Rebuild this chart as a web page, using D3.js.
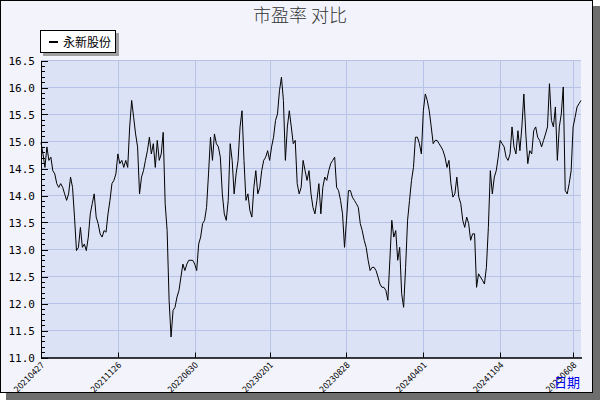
<!DOCTYPE html>
<html><head><meta charset="utf-8">
<script src="https://cdn.jsdelivr.net/npm/d3@7"></script>
<style>body{margin:0;background:#fff}svg{display:block}</style>
</head><body><svg id="c" width="600" height="400"></svg>
<script>
const seriesName = "永新股份";
const title = "市盈率  对比";
const peValues = [
14.98,14.77,14.52,14.9,14.65,14.71,14.46,14.4,14.22,14.15,14.22,14.15,14.03,13.91,14.03,14.34,14.15,13.6,12.98,13.04,13.41,13.04,13.1,12.98,13.23,13.66,13.85,14.03,13.6,13.48,13.29,13.23,13.35,13.32,13.66,13.91,14.22,14.28,14.4,14.77,14.59,14.65,14.52,14.65,14.52,15.27,15.76,15.45,15.14,14.9,14.03,14.34,14.46,14.65,14.83,15.08,14.77,14.96,14.52,15.02,14.65,14.77,15.17,13.85,13.35,12.06,11.38,11.87,11.93,12.12,12.24,12.49,12.73,12.61,12.73,12.8,12.8,12.8,12.73,12.61,13.1,13.23,13.48,13.54,13.78,14.4,15.08,14.65,15.14,14.96,14.9,14.71,14.03,13.66,13.54,13.91,14.96,14.65,14.03,14.4,
14.65,15.27,15.57,14.65,13.91,14.03,13.72,13.6,14.15,14.46,14.03,14.15,14.46,14.65,14.71,14.83,14.65,14.9,15.08,15.39,15.51,15.94,16.19,15.76,14.65,15.27,15.57,15.27,14.96,15.02,14.22,14.03,14.15,14.65,14.46,14.28,14.46,14.03,13.78,13.66,13.91,14.22,13.66,14.15,14.34,14.28,14.46,14.59,14.65,14.71,14.15,14.09,13.91,13.66,13.04,13.54,14.09,14.09,13.97,13.91,13.85,13.78,13.48,13.35,13.17,13.04,12.8,12.61,12.67,12.67,12.61,12.49,12.36,12.3,12.3,12.24,12.06,12.8,13.54,13.23,13.35,12.8,13.04,12.18,11.93,12.67,13.54,13.91,14.28,14.52,15.08,15.08,14.96,14.77,15.57,15.88,15.76,
15.57,15.27,14.96,15.02,15.02,14.96,14.9,14.83,14.71,14.52,14.65,14.22,13.97,14.03,14.34,13.97,13.85,13.54,13.41,13.6,13.48,13.17,13.29,13.29,12.3,12.55,12.49,12.43,12.36,12.67,13.41,14.46,14.03,14.34,14.46,14.71,15.02,14.96,14.9,14.71,14.65,14.77,15.27,14.9,14.77,15.2,14.83,15.27,15.88,15.14,14.59,14.83,14.77,15.2,15.27,15.08,15.02,14.9,15.02,15.14,15.27,16.07,15.39,15.27,15.64,14.65,15.27,15.51,16.01,14.09,14.03,14.22,14.46,15.27,15.45,15.64,15.7,15.76];
const tickIndex = [0,39,78,116,155,194,233,270];
const tickLabels = ["20210427","20211126","20220630","20230201","20230828","20240401","20241104","20250608"];
const yTicks = [11.0,11.5,12.0,12.5,13.0,13.5,14.0,14.5,15.0,15.5,16.0,16.5];

const svg = d3.select("#c");
svg.append("rect").attr("x",6).attr("y",6).attr("width",594).attr("height",394).attr("fill","#6e6e6e");
svg.append("rect").attr("x",0.5).attr("y",0.5).attr("width",592).attr("height",392).attr("fill","#f2f3fb").attr("stroke","#000");

const L=41,R=581,T=60.5,B=357.5;
const x=d3.scaleLinear().domain([0,peValues.length-1]).range([L,R]);
const y=d3.scaleLinear().domain([11,16.5]).range([B,T]);

svg.append("rect").attr("x",L).attr("y",T).attr("width",R-L).attr("height",B-T).attr("fill","#dce2f6");
const g=svg.append("g");
g.selectAll(".hg").data(yTicks).join("line").attr("x1",L).attr("x2",R)
 .attr("y1",d=>y(d)).attr("y2",d=>y(d)).attr("stroke","#b7c3e6").attr("stroke-width",1);
g.selectAll(".vg").data(tickIndex.slice(1)).join("line").attr("y1",T).attr("y2",B)
 .attr("x1",d=>Math.round(x(d))+0.5).attr("x2",d=>Math.round(x(d))+0.5).attr("stroke","#b7c3e6");

const line=d3.line().x((d,i)=>x(i)).y(d=>y(d));
svg.append("path").datum(peValues).attr("d",line).attr("fill","none").attr("stroke","#000").attr("stroke-width",1);

const ya=d3.axisLeft(y).tickValues(yTicks).tickFormat(d3.format(".1f")).tickSize(0).tickPadding(6);
const yg=svg.append("g").attr("transform",`translate(${L},0)`).call(ya);
yg.select(".domain").attr("stroke","#000");
yg.selectAll("text").attr("font-family","DejaVu Sans Mono, monospace").attr("font-size",11).attr("fill","#000");
const minor=d3.range(110,166).map(d=>d/10);
svg.append("g").selectAll("line").data(minor).join("line").attr("x1",L).attr("x2",L+4)
 .attr("y1",d=>Math.round(y(d))+0.5).attr("y2",d=>Math.round(y(d))+0.5).attr("stroke","#000");
svg.append("g").selectAll("line").data(yTicks).join("line").attr("x1",L).attr("x2",L+7)
 .attr("y1",d=>Math.round(y(d))+0.5).attr("y2",d=>Math.round(y(d))+0.5).attr("stroke","#000");

svg.append("line").attr("x1",L).attr("x2",R+1).attr("y1",B+0.5).attr("y2",B+0.5).attr("stroke","#000").attr("stroke-width",1.5);
const xg=svg.append("g");
xg.selectAll("line").data(tickIndex).join("line").attr("x1",d=>Math.round(x(d))+0.5).attr("x2",d=>Math.round(x(d))+0.5)
 .attr("y1",B-5).attr("y2",B).attr("stroke","#000");
xg.selectAll("text").data(tickIndex).join("text")
 .attr("transform",(d)=>`translate(${x(d)+4},${B+8}) rotate(-45)`)
 .attr("text-anchor","end").attr("font-family","DejaVu Sans Condensed, DejaVu Sans, sans-serif").attr("font-size",8.5)
 .text((d,i)=>tickLabels[i]);
svg.append("text").attr("x",580).attr("y",387).attr("text-anchor","end").attr("fill","#0000ee")
 .attr("font-family","Noto Sans CJK SC").attr("font-size",13).text("日期");

svg.append("text").attr("x",300).attr("y",22).attr("text-anchor","middle").attr("fill","#333")
 .attr("font-family","Noto Sans CJK SC").attr("font-weight",300).attr("font-size",18).text(title);

svg.append("rect").attr("x",43).attr("y",33).attr("width",76).attr("height",23).attr("fill","#a0a0a0");
svg.append("rect").attr("x",40.5).attr("y",30.5).attr("width",75).attr("height",22).attr("fill","#fff").attr("stroke","#000");
svg.append("line").attr("x1",49).attr("x2",58).attr("y1",42).attr("y2",42).attr("stroke","#000").attr("stroke-width",2);
svg.append("text").attr("x",63).attr("y",47).attr("font-family","Noto Sans CJK SC").attr("font-size",12).text(seriesName);
</script></body></html>
